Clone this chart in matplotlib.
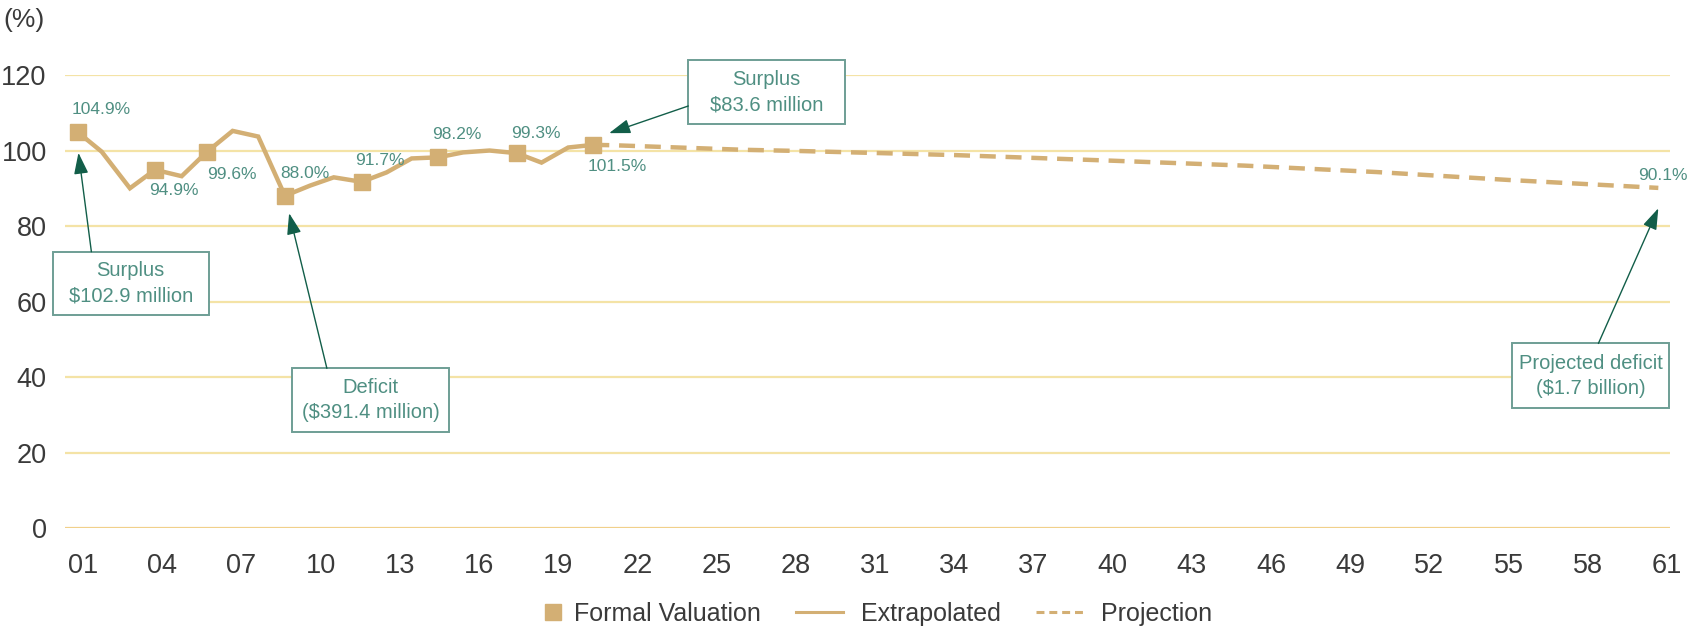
import matplotlib
matplotlib.use("Agg")
import matplotlib.pyplot as plt
from matplotlib.patches import Rectangle
from matplotlib.lines import Line2D
from matplotlib.legend_handler import HandlerLine2D

plt.rcParams["font.family"] = ["Liberation Sans", "DejaVu Sans"]

# Formal valuations (fiscal-year position, funded ratio %)
valuation_years = [2000.80, 2003.73, 2005.69, 2008.65, 2011.56, 2014.46, 2017.43, 2020.33]
valuation_values = [104.9, 94.9, 99.6, 88.0, 91.7, 98.2, 99.3, 101.5]

# Extrapolated funded ratio between valuations
extrap_years = [2000.80, 2001.71, 2002.78, 2003.73, 2004.74, 2005.69, 2006.67, 2007.64,
                2008.65, 2009.60, 2010.50, 2011.56, 2012.50, 2013.45, 2014.46, 2015.40,
                2016.40, 2017.43, 2018.37, 2019.38, 2020.33]
extrap_values = [104.9, 99.7, 90.0, 94.9, 93.2, 99.6, 105.2, 103.7,
                 88.0, 90.7, 92.9, 91.7, 94.2, 97.9, 98.2, 99.5,
                 100.0, 99.3, 96.8, 100.8, 101.5]

# Projected funded ratio
proj_years = [2020.33, 2021.1, 2026.0, 2028.0, 2034.0, 2040.0, 2045.0, 2050.0, 2055.0, 2060.67]
proj_values = [101.5, 101.4, 100.2, 99.9, 98.8, 97.3, 96.0, 94.3, 92.2, 90.1]

tick_years = list(range(2001, 2062, 3))
tick_labels = [f"{y % 100:02d}" for y in tick_years]
y_ticks = [0, 20, 40, 60, 80, 100, 120]

# Value label offsets (pixels) for each valuation
label_offsets = [(24, 23), (19, -21), (25, -22), (20, 22), (18, 21), (19, 23), (19, 20), (24, -22)]

callouts = [
    # text, box (x0, x1, y0, y1), arrow tail, arrow tip
    ("Surplus\n$102.9 million", (1999.85, 2005.77, 56.4, 73.2), (2001.32, 73.2), (2000.83, 99.4)),
    ("Deficit\n($391.4 million)", (2008.93, 2014.85, 25.4, 42.3), (2010.24, 42.3), (2008.81, 83.4)),
    ("Surplus\n$83.6 million", (2023.93, 2029.86, 107.0, 124.0), (2023.93, 111.8), (2020.93, 104.6)),
    ("Projected deficit\n($1.7 billion)", (2055.12, 2061.09, 31.7, 48.9), (2058.40, 48.9), (2060.67, 84.7)),
]

GOLD = "#D3AF74"
GRID = "#F4E3A6"
TEAL_TEXT = "#4F8F82"
BOX_EDGE = "#6E9E95"
ARROW = "#125E49"
TICK = "#3A3A3A"


class HandlerMarkerRight(HandlerLine2D):
    """Single legend marker drawn close to its label."""

    def get_xdata(self, legend, xdescent, ydescent, width, height, fontsize):
        xm = width - xdescent - 0.15 * fontsize
        return [xm - 0.5, xm + 0.5], [xm]


fig = plt.figure(figsize=(16.94, 6.31), dpi=100)
ax = fig.add_axes([0.0382, 0.1632, 0.9476, 0.7179])

ax.set_xlim(2000.31, 2061.11)
ax.set_ylim(0, 120)

for y in y_ticks:
    ax.axhline(y, color=GRID if y else "#F1D08A", lw=1.6, zorder=0)

ax.plot(extrap_years, extrap_values, color=GOLD, lw=3.2, solid_joinstyle="miter", zorder=3)
ax.plot(proj_years, proj_values, color=GOLD, lw=3.2, dashes=(3.6, 2.2),
        dash_capstyle="butt", zorder=3)
ax.plot(valuation_years, valuation_values, ls="none", marker="s", ms=11,
        color=GOLD, zorder=4)

for x, v, off in zip(valuation_years, valuation_values, label_offsets):
    ax.annotate(f"{v:.1f}%", xy=(x, v), xytext=off, textcoords="offset pixels",
                ha="center", va="center", fontsize=12.5, color=TEAL_TEXT, zorder=5)
ax.annotate(f"{proj_values[-1]:.1f}%", xy=(proj_years[-1], proj_values[-1]),
            xytext=(-20, 12), textcoords="offset pixels", ha="left", va="center",
            fontsize=12.5, color=TEAL_TEXT, annotation_clip=False)

for text, (x0, x1, y0, y1), tail, tip in callouts:
    ax.add_patch(Rectangle((x0, y0), x1 - x0, y1 - y0, facecolor="white",
                           edgecolor=BOX_EDGE, lw=1.4, clip_on=False, zorder=6))
    ax.text((x0 + x1) / 2, (y0 + y1) / 2, text, ha="center", va="center",
            fontsize=14.5, color=TEAL_TEXT, linespacing=1.4, zorder=7, clip_on=False)
    ax.annotate("", xy=tip, xytext=tail, annotation_clip=False,
                arrowprops=dict(arrowstyle="-|>,head_length=0.65,head_width=0.22",
                                mutation_scale=20, color=ARROW, lw=1.0,
                                shrinkA=0, shrinkB=0), zorder=6)

ax.set_xticks(tick_years)
ax.set_xticklabels(tick_labels)
ax.set_yticks(y_ticks)
ax.tick_params(axis="both", length=0, labelsize=19.5, labelcolor=TICK)
ax.tick_params(axis="x", pad=18)
ax.tick_params(axis="y", pad=13)
for s in ax.spines.values():
    s.set_visible(False)

fig.text(0.002, 0.968, "(%)", fontsize=19, color=TICK, ha="left", va="center")

square_handle = Line2D([], [], ls="none", marker="s", ms=11, color=GOLD)
handles = [
    square_handle,
    Line2D([], [], color=GOLD, lw=2.2),
    Line2D([], [], color=GOLD, lw=2.2, dashes=(2.6, 1.6)),
]
fig.legend(handles, ["Formal Valuation", "Extrapolated", "Projection"],
           handler_map={square_handle: HandlerMarkerRight()},
           loc="center", bbox_to_anchor=(0.508, 0.027), ncol=3, frameon=False,
           fontsize=18, handlelength=1.9, handletextpad=0.7, columnspacing=1.4,
           labelcolor=TICK)

fig.savefig("out.png", dpi=100)
